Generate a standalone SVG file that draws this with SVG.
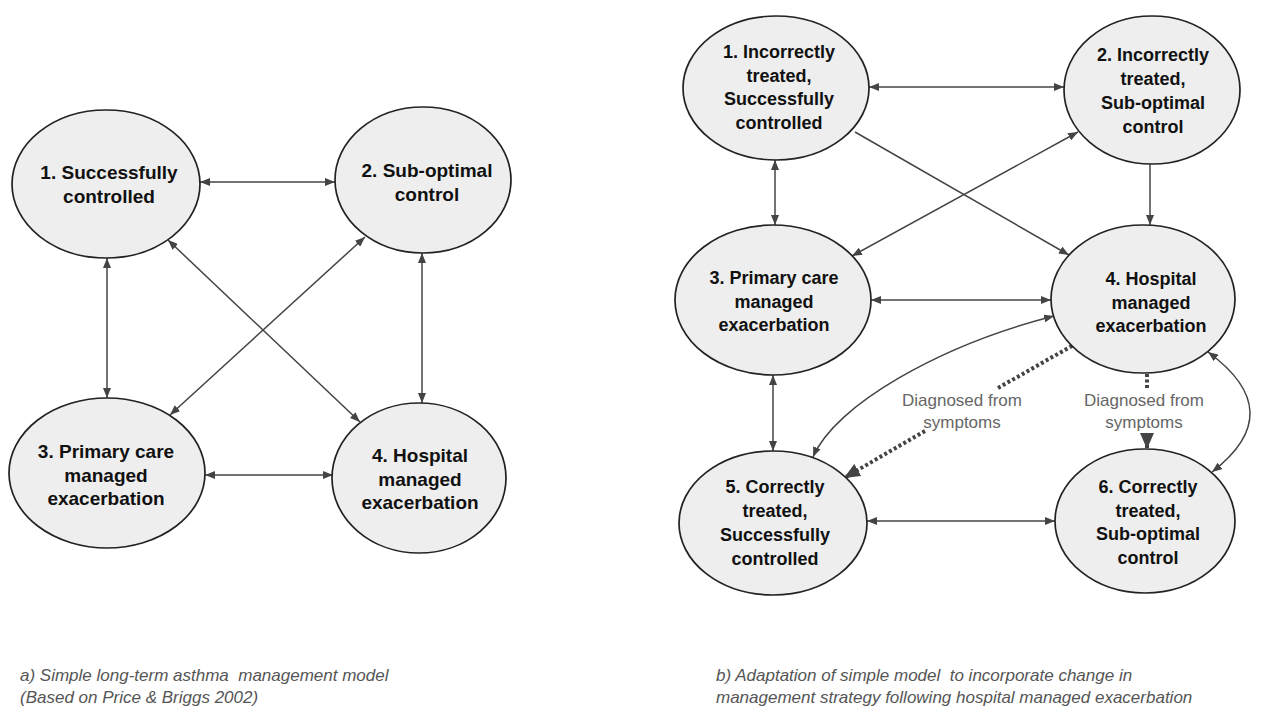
<svg xmlns="http://www.w3.org/2000/svg" width="1262" height="706" viewBox="0 0 1262 706">
<defs>
<style>
.node ellipse{fill:#eeeeee;stroke:#222;stroke-width:1.7}
.lbl{font-family:"Liberation Sans",Arial,sans-serif;font-weight:bold;fill:#111;text-anchor:middle}
.lf{font-size:19px}
.rf{font-size:18px}
.conn{stroke:#444;stroke-width:1.5;fill:none}
.dot{stroke:#444;stroke-width:4;stroke-dasharray:3 2.5;fill:none}
.note{font-family:"Liberation Sans",Arial,sans-serif;font-size:17px;fill:#666;text-anchor:middle}
.cap{font-family:"Liberation Sans",Arial,sans-serif;font-style:italic;font-size:17px;fill:#555;white-space:pre}
</style>
<marker id="ah" viewBox="0 0 10 8" refX="10" refY="4" markerWidth="10" markerHeight="8" markerUnits="userSpaceOnUse" orient="auto-start-reverse"><path d="M0,0 L10,4 L0,8 z" fill="#444"/></marker>
<marker id="ahb" viewBox="0 0 16 14" refX="16" refY="7" markerWidth="16" markerHeight="14" markerUnits="userSpaceOnUse" orient="auto"><path d="M0,0 L16,7 L0,14 z" fill="#444"/></marker>
</defs>
<rect width="1262" height="706" fill="#ffffff"/>

<g id="connectors">
<!-- left diagram -->
<line class="conn" x1="200" y1="182" x2="335" y2="182" marker-start="url(#ah)" marker-end="url(#ah)"/>
<line class="conn" x1="107" y1="258" x2="107" y2="398" marker-start="url(#ah)" marker-end="url(#ah)"/>
<line class="conn" x1="168" y1="240" x2="360" y2="422" marker-start="url(#ah)" marker-end="url(#ah)"/>
<line class="conn" x1="365" y1="237" x2="170" y2="415" marker-start="url(#ah)" marker-end="url(#ah)"/>
<line class="conn" x1="422" y1="253" x2="422" y2="403" marker-start="url(#ah)" marker-end="url(#ah)"/>
<line class="conn" x1="205" y1="475" x2="333" y2="475" marker-start="url(#ah)" marker-end="url(#ah)"/>
<!-- right diagram -->
<line class="conn" x1="869" y1="87" x2="1064" y2="87" marker-start="url(#ah)" marker-end="url(#ah)"/>
<line class="conn" x1="855" y1="132" x2="1069" y2="255" marker-end="url(#ah)"/>
<line class="conn" x1="1078" y1="132" x2="852" y2="256" marker-start="url(#ah)" marker-end="url(#ah)"/>
<line class="conn" x1="775" y1="160" x2="775" y2="225" marker-start="url(#ah)" marker-end="url(#ah)"/>
<line class="conn" x1="1150" y1="164" x2="1150" y2="225" marker-end="url(#ah)"/>
<line class="conn" x1="871" y1="300" x2="1051" y2="300" marker-start="url(#ah)" marker-end="url(#ah)"/>
<line class="conn" x1="773" y1="375" x2="773" y2="451" marker-start="url(#ah)" marker-end="url(#ah)"/>
<line class="conn" x1="867" y1="521" x2="1055" y2="521" marker-start="url(#ah)" marker-end="url(#ah)"/>
<path class="conn" d="M813 457 C835 405 940 345 1054 316" marker-start="url(#ah)" marker-end="url(#ah)"/>
<path class="conn" d="M1208 352 Q1290 412 1212 472" marker-start="url(#ah)" marker-end="url(#ah)"/>
<line class="dot" x1="1077" y1="343" x2="998" y2="388"/>
<line class="dot" x1="925" y1="431" x2="844" y2="478" marker-end="url(#ahb)"/>
<line class="dot" x1="1147" y1="374" x2="1147" y2="388"/>
<line class="dot" x1="1147" y1="434" x2="1147" y2="449" marker-end="url(#ahb)"/>
<text class="note" x="962" y="406">Diagnosed from</text>
<text class="note" x="962" y="428">symptoms</text>
<text class="note" x="1144" y="406">Diagnosed from</text>
<text class="note" x="1144" y="428">symptoms</text>
</g>

<g id="a1" class="node"><ellipse cx="106" cy="184" rx="94" ry="74"/>
<text class="lbl lf"><tspan x="109" y="179">1. Successfully</tspan><tspan x="109" y="203">controlled</tspan></text></g>
<g id="a2" class="node"><ellipse cx="423" cy="180" rx="88" ry="73"/>
<text class="lbl lf"><tspan x="427" y="177">2. Sub-optimal</tspan><tspan x="427" y="201">control</tspan></text></g>
<g id="a3" class="node"><ellipse cx="107" cy="473" rx="98" ry="75"/>
<text class="lbl lf"><tspan x="106" y="458">3. Primary care</tspan><tspan x="106" y="482">managed</tspan><tspan x="106" y="505">exacerbation</tspan></text></g>
<g id="a4" class="node"><ellipse cx="419" cy="478" rx="87" ry="75"/>
<text class="lbl lf"><tspan x="420" y="462">4. Hospital</tspan><tspan x="420" y="486">managed</tspan><tspan x="420" y="509">exacerbation</tspan></text></g>

<g id="b1" class="node"><ellipse cx="776" cy="88" rx="93" ry="72"/>
<text class="lbl rf"><tspan x="779" y="58">1. Incorrectly</tspan><tspan x="779" y="82">treated,</tspan><tspan x="779" y="105">Successfully</tspan><tspan x="779" y="129">controlled</tspan></text></g>
<g id="b2" class="node"><ellipse cx="1152" cy="90" rx="88" ry="74"/>
<text class="lbl rf"><tspan x="1153" y="61">2. Incorrectly</tspan><tspan x="1153" y="85">treated,</tspan><tspan x="1153" y="109">Sub-optimal</tspan><tspan x="1153" y="133">control</tspan></text></g>
<g id="b3" class="node"><ellipse cx="773" cy="300" rx="98" ry="75"/>
<text class="lbl rf"><tspan x="774" y="284">3. Primary care</tspan><tspan x="774" y="308">managed</tspan><tspan x="774" y="331">exacerbation</tspan></text></g>
<g id="b4" class="node"><ellipse cx="1143" cy="299" rx="92" ry="74"/>
<text class="lbl rf"><tspan x="1151" y="285">4. Hospital</tspan><tspan x="1151" y="309">managed</tspan><tspan x="1151" y="332">exacerbation</tspan></text></g>
<g id="b5" class="node"><ellipse cx="773" cy="523" rx="94" ry="72"/>
<text class="lbl rf"><tspan x="775" y="493">5. Correctly</tspan><tspan x="775" y="517">treated,</tspan><tspan x="775" y="541">Successfully</tspan><tspan x="775" y="565">controlled</tspan></text></g>
<g id="b6" class="node"><ellipse cx="1145" cy="521" rx="90" ry="72"/>
<text class="lbl rf"><tspan x="1148" y="493">6. Correctly</tspan><tspan x="1148" y="517">treated,</tspan><tspan x="1148" y="540">Sub-optimal</tspan><tspan x="1148" y="564">control</tspan></text></g>

<g id="captions">
<text class="cap" xml:space="preserve" x="20" y="681">a) Simple long-term asthma  management model</text>
<text class="cap" x="20" y="703">(Based on Price &amp; Briggs 2002)</text>
<text class="cap" xml:space="preserve" x="716" y="681">b) Adaptation of simple model  to incorporate change in</text>
<text class="cap" x="716" y="703">management strategy following hospital managed exacerbation</text>
</g>
</svg>
